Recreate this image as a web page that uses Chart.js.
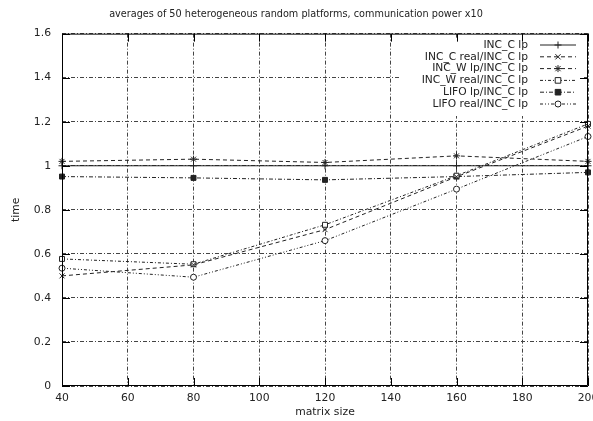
<!DOCTYPE html>
<html>
<head>
<meta charset="utf-8">
<script src="https://cdn.jsdelivr.net/npm/chart.js@4"></script>
<style>
  body { margin: 0; background: #fff; }
  #wrap { width: 593px; height: 421px; }
</style>
</head>
<body>
<div id="wrap"><canvas id="chart" width="593" height="421"></canvas></div>
<script>
// values
const matrixSizes = [40, 80, 120, 160, 200];
const incCLp = [1, 1, 1, 1, 1];
const incCReal = [0.50, 0.55, 0.71, 0.95, 1.18];
const incWLp = [1.02, 1.03, 1.015, 1.045, 1.02];
const incWReal = [0.577, 0.553, 0.732, 0.955, 1.19];
const lifoLp = [0.951, 0.945, 0.936, 0.951, 0.97];
const lifoReal = [0.535, 0.494, 0.66, 0.894, 1.133];

const seriesNames = [
  "INC_C lp",
  "INC_C real/INC_C lp",
  "INC_W lp/INC_C lp",
  "INC_W real/INC_C lp",
  "LIFO lp/INC_C lp",
  "LIFO real/INC_C lp",
];

const FONT = "DejaVu Sans";
const INK = "#222";

const styles = [
  { dash: [], point: "cross", fill: INK, r: 3.5 },
  { dash: [4, 3], point: "crossRot", fill: INK, r: 3.5 },
  { dash: [4, 3], point: "star", fill: INK, r: 3.5 },
  { dash: [3, 2, 1, 2], point: "rect", fill: "#fff", r: 3.5 },
  { dash: [4, 2, 1, 2], point: "rect", fill: INK, r: 3.5 },
  { dash: [3, 2, 1, 2, 1, 2], point: "circle", fill: "#fff", r: 3 },
];

const allValues = [incCLp, incCReal, incWLp, incWReal, lifoLp, lifoReal];

const datasets = allValues.map((vals, i) => ({
  label: seriesNames[i],
  data: matrixSizes.map((x, j) => ({ x: x, y: vals[j] })),
  borderColor: INK,
  borderWidth: 1,
  borderDash: styles[i].dash,
  pointStyle: styles[i].point,
  pointRadius: styles[i].r,
  pointBorderWidth: 1,
  pointBorderColor: INK,
  pointBackgroundColor: styles[i].fill,
  clip: false,
  tension: 0,
}));

function drawMarker(ctx, style, x, y, r, fill) {
  ctx.save();
  ctx.setLineDash([]);
  ctx.strokeStyle = INK;
  ctx.fillStyle = fill;
  ctx.lineWidth = 1;
  ctx.beginPath();
  if (style === "cross" || style === "star") {
    ctx.moveTo(x - r, y); ctx.lineTo(x + r, y);
    ctx.moveTo(x, y - r); ctx.lineTo(x, y + r);
  }
  if (style === "crossRot" || style === "star") {
    const d = r * 0.75;
    ctx.moveTo(x - d, y - d); ctx.lineTo(x + d, y + d);
    ctx.moveTo(x - d, y + d); ctx.lineTo(x + d, y - d);
  }
  if (style === "rect") {
    ctx.rect(x - r * 0.8, y - r * 0.8, r * 1.6, r * 1.6);
    ctx.fill();
  }
  if (style === "circle") {
    ctx.arc(x, y, r, 0, Math.PI * 2);
    ctx.fill();
  }
  ctx.stroke();
  ctx.restore();
}

// gnuplot-like frame: solid box, inward ticks on all four sides, key top right
const framePlugin = {
  id: "frame",
  afterDraw(chart) {
    const { ctx, chartArea: a, scales } = chart;
    ctx.save();
    ctx.strokeStyle = "#000";
    ctx.lineWidth = 1;
    ctx.setLineDash([]);

    // key
    const keyX0 = 400, keyX1 = 582, keyY0 = 38, keyY1 = 116;
    ctx.fillStyle = "#fff";
    ctx.fillRect(keyX0, keyY0, keyX1 - keyX0, keyY1 - keyY0);
    ctx.font = "10.7px '" + FONT + "'";
    ctx.fillStyle = INK;
    ctx.textAlign = "right";
    ctx.textBaseline = "middle";
    seriesNames.forEach((name, i) => {
      const y = 45 + i * 11.8;
      ctx.fillText(name, 528, y);
      ctx.save();
      ctx.strokeStyle = INK;
      ctx.setLineDash(styles[i].dash);
      ctx.beginPath();
      ctx.moveTo(540, y);
      ctx.lineTo(576, y);
      ctx.stroke();
      ctx.restore();
      drawMarker(ctx, styles[i].point, 558, y, styles[i].r, styles[i].fill);
    });

    ctx.strokeStyle = "#000";
    ctx.beginPath();
    ctx.rect(a.left + 0.5, a.top + 0.5, a.right - a.left - 1, a.bottom - a.top - 1);
    ctx.stroke();

    const t = 8;
    ctx.beginPath();
    scales.x.ticks.forEach(tk => {
      const px = Math.round(scales.x.getPixelForValue(tk.value)) + 0.5;
      ctx.moveTo(px, a.bottom); ctx.lineTo(px, a.bottom - t);
      ctx.moveTo(px, a.top); ctx.lineTo(px, a.top + t);
    });
    scales.y.ticks.forEach(tk => {
      const py = Math.round(scales.y.getPixelForValue(tk.value)) + 0.5;
      ctx.moveTo(a.left, py); ctx.lineTo(a.left + t, py);
      ctx.moveTo(a.right, py); ctx.lineTo(a.right - t, py);
    });
    ctx.stroke();
    ctx.restore();
  },
};

Chart.defaults.font.family = FONT;
Chart.defaults.font.size = 10.8;
Chart.defaults.color = INK;

new Chart("chart", {
  type: "line",
  data: { datasets: datasets },
  options: {
    responsive: false,
    animation: false,
    layout: { padding: { left: 0, right: 1, top: 0, bottom: 0 } },
    plugins: {
      legend: { display: false },
      tooltip: { enabled: false },
      title: {
        display: true,
        text: "averages of 50 heterogeneous random platforms, communication power x10",
        font: { size: 9.7, weight: "normal", lineHeight: 1.2 },
        color: INK,
        padding: { top: 9, bottom: 13 },
      },
    },
    scales: {
      x: {
        type: "linear",
        min: 40,
        max: 200,
        ticks: { stepSize: 20, padding: 6, maxRotation: 0, font: { size: 10.8 } },
        grid: { color: "#444", lineWidth: 1, drawTicks: false },
        border: { display: false, dash: [4, 2, 1, 2] },
        title: { display: true, text: "matrix size", padding: { top: 0, bottom: 2 }, font: { size: 10.8 } },
        afterFit(s) { s.height = 35; s.paddingLeft = 0; s.paddingRight = 0; },
      },
      y: {
        min: 0,
        max: 1.6,
        ticks: {
          stepSize: 0.2,
          padding: 11,
          font: { size: 10.8 },
          callback: v => String(+v.toFixed(1)),
        },
        grid: { color: "#444", lineWidth: 1, drawTicks: false },
        border: { display: false, dash: [4, 2, 1, 2] },
        title: { display: true, text: "time", padding: { top: 10, bottom: 0 }, font: { size: 10.8 } },
        afterFit(s) { s.width = 62; s.paddingTop = 0; s.paddingBottom = 0; },
      },
    },
  },
  plugins: [framePlugin],
});
</script>
</body>
</html>
